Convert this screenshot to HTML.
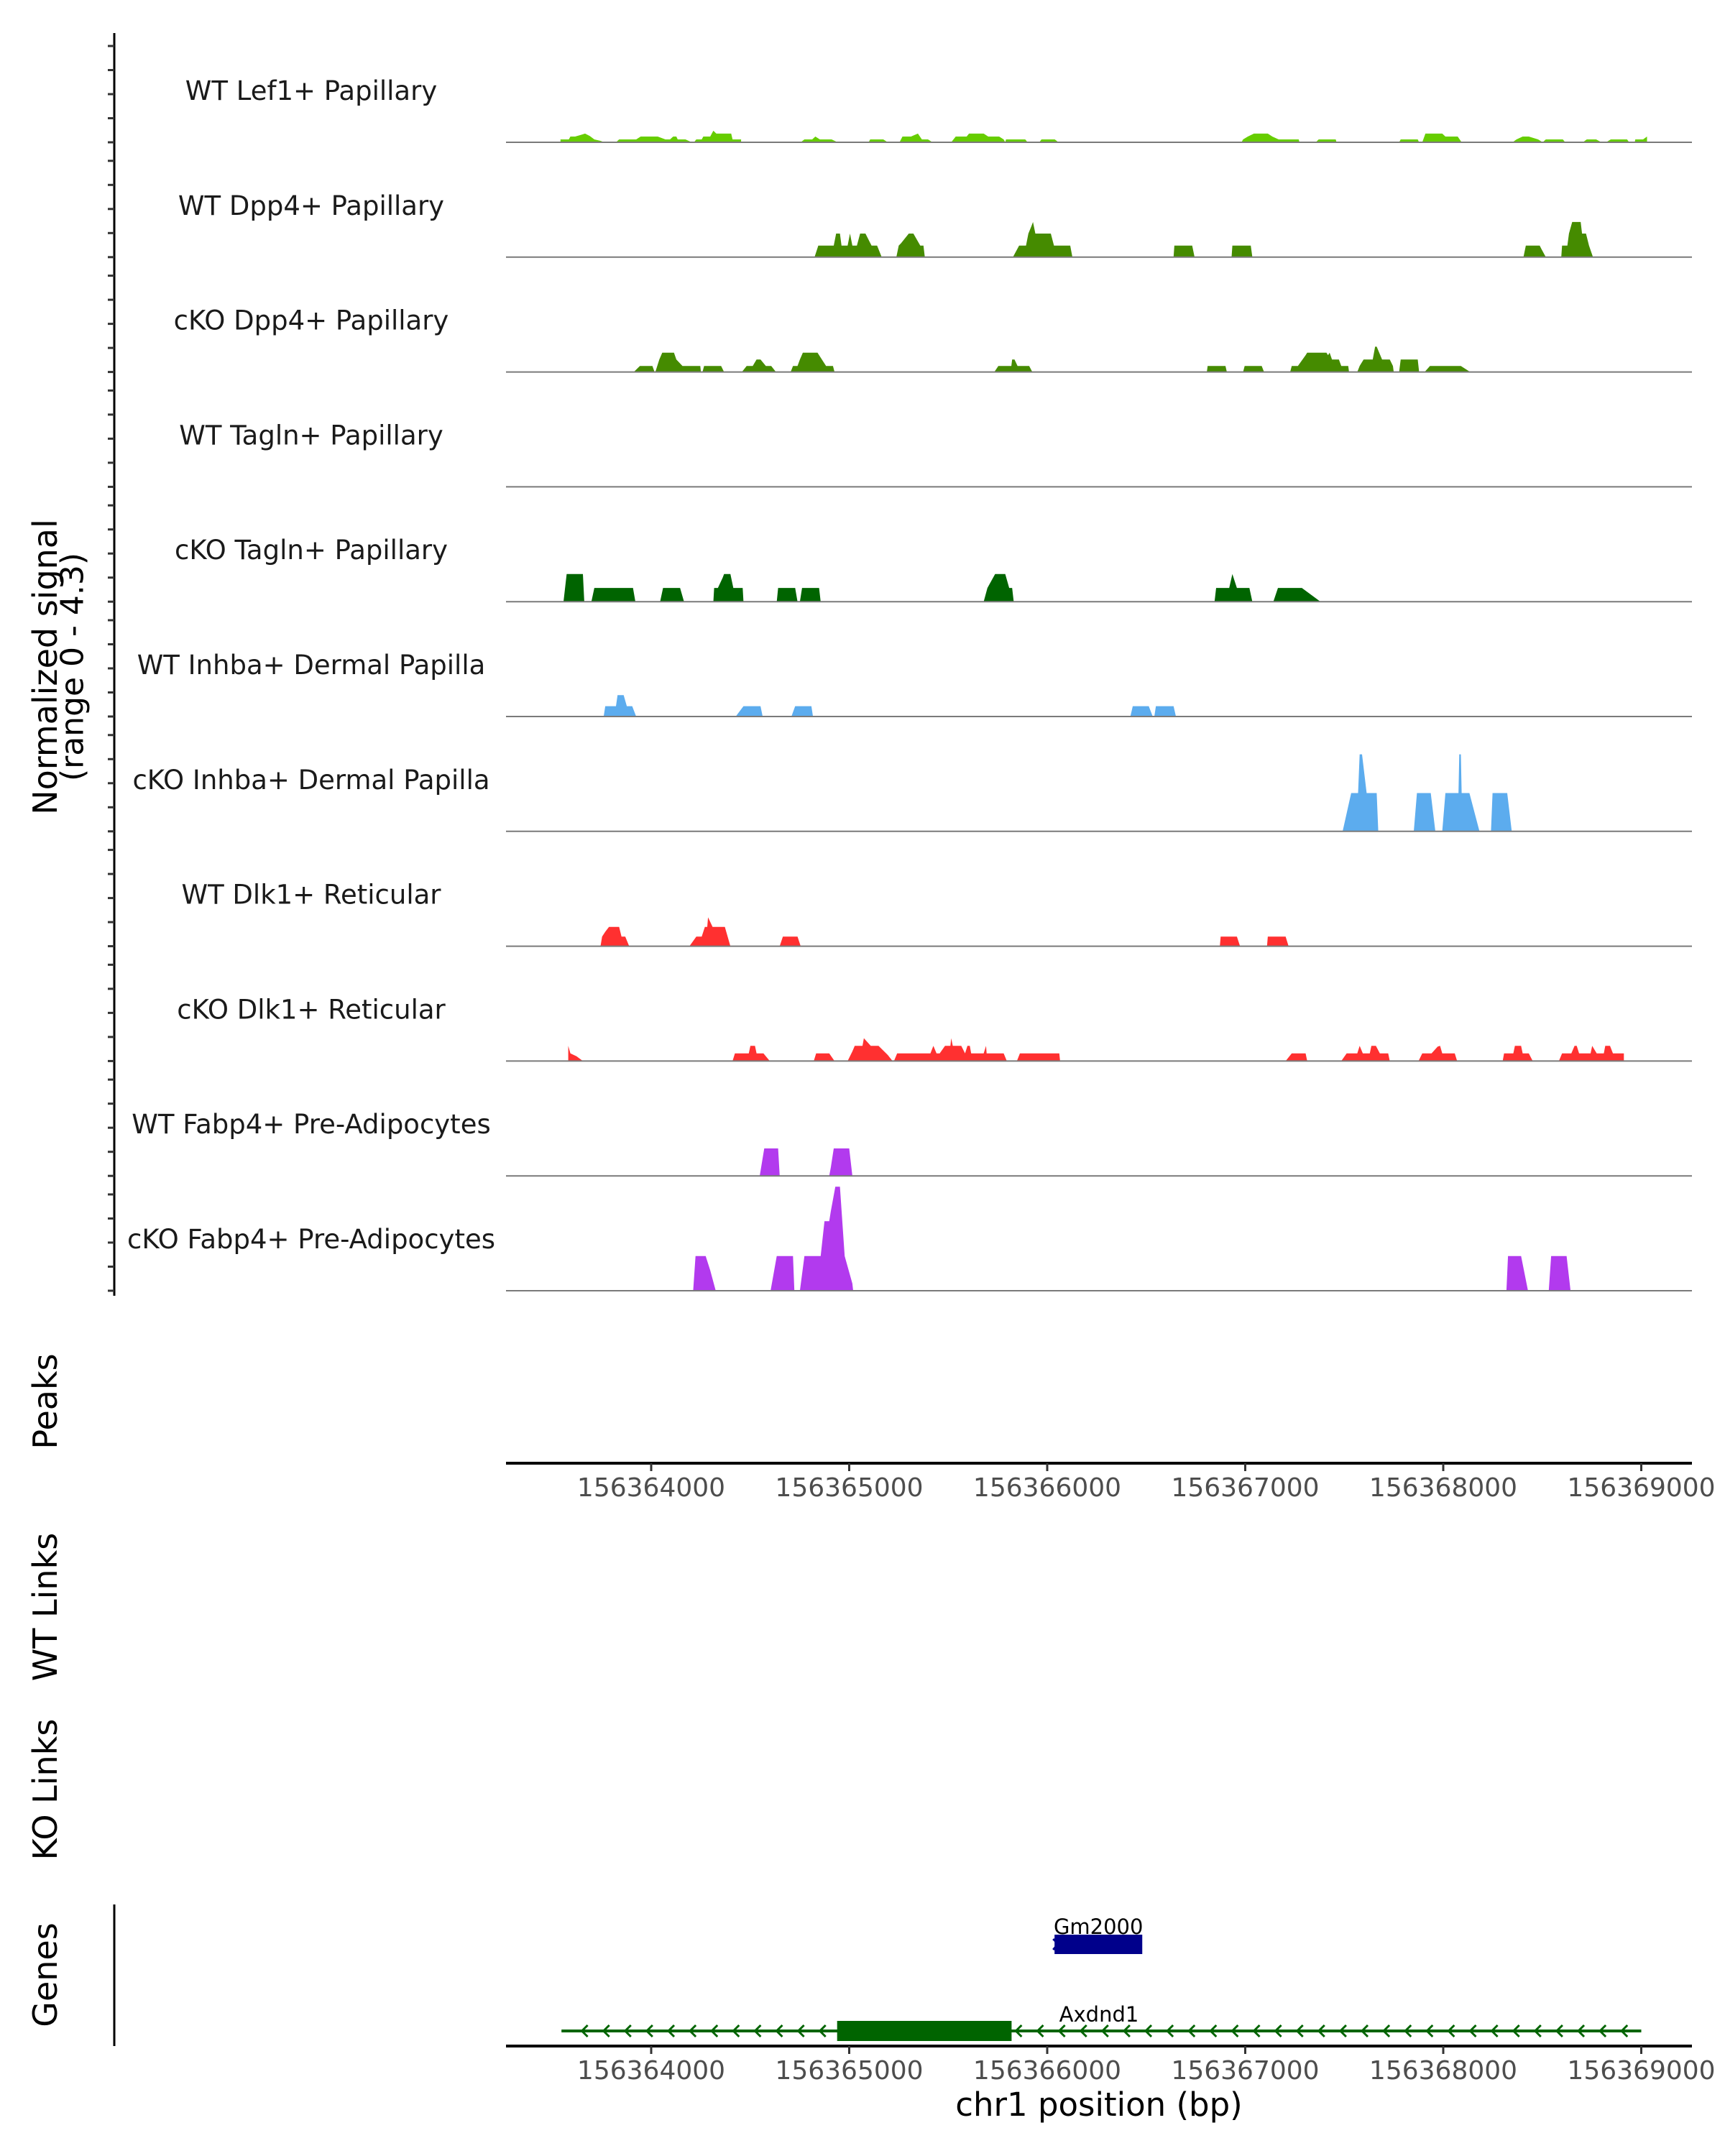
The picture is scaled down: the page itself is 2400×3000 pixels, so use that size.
<!DOCTYPE html>
<html><head><meta charset="utf-8"><style>
html,body{margin:0;padding:0;background:#fff;}
svg{display:block;font-family:"DejaVu Sans","Liberation Sans",sans-serif;}
</style></head><body>
<svg id="chart" width="2400" height="3000" viewBox="0 0 2400 3000" xmlns="http://www.w3.org/2000/svg">
<rect x="0" y="0" width="2400" height="3000" fill="#fff"/>
<g id="tracks"></g>
<g id="axes"></g>
<g id="genes"></g>
<text x="63" y="928" transform="rotate(-90 63 928)" text-anchor="middle" dominant-baseline="central" font-size="46" fill="#000">Normalized signal</text>
<text x="101" y="928" transform="rotate(-90 101 928)" text-anchor="middle" dominant-baseline="central" font-size="44" fill="#000">(range 0 - 4.3)</text>
<text x="63" y="1950" transform="rotate(-90 63 1950)" text-anchor="middle" dominant-baseline="central" font-size="46" fill="#000">Peaks</text>
<text x="63" y="2236" transform="rotate(-90 63 2236)" text-anchor="middle" dominant-baseline="central" font-size="46" fill="#000">WT Links</text>
<text x="63" y="2490" transform="rotate(-90 63 2490)" text-anchor="middle" dominant-baseline="central" font-size="46" fill="#000">KO Links</text>
<text x="63" y="2748" transform="rotate(-90 63 2748)" text-anchor="middle" dominant-baseline="central" font-size="46" fill="#000">Genes</text>
<text x="1529" y="2944" text-anchor="middle" font-size="45" fill="#000">chr1 position (bp)</text>
</svg>
<script>
// genomic positions are bp offsets from 156,364,000; values are normalized signal
const trackNames = ["WT Lef1+ Papillary","WT Dpp4+ Papillary","cKO Dpp4+ Papillary","WT Tagln+ Papillary","cKO Tagln+ Papillary","WT Inhba+ Dermal Papilla","cKO Inhba+ Dermal Papilla","WT Dlk1+ Reticular","cKO Dlk1+ Reticular","WT Fabp4+ Pre-Adipocytes","cKO Fabp4+ Pre-Adipocytes"];
const trackColors = ["#66CD00","#458B00","#458B00","#006400","#006400","#5CACEE","#5CACEE","#FF3030","#FF3030","#B23AEE","#B23AEE"];

const posLef1 = [-458,-458,-416,-408,-384,-357,-334,-310,-287,-256,-236,-178,-162,-76,-53,17,33,72,95,111,127,134,173,205,216,228,255,263,298,314,329,404,411,454,454,755,774,813,829,852,911,942,1098,1106,1172,1195,1254,1269,1312,1347,1367,1398,1421,1515,1538,1593,1605,1679,1702,1757,1780,1788,1792,1889,1901,1960,1971,2038,2057,2981,2989,3013,3044,3114,3137,3169,3270,3274,3356,3371,3457,3461,3777,3785,3871,3878,3894,3910,3995,4011,4073,4093,4350,4370,4401,4432,4479,4502,4518,4604,4616,4705,4725,4772,4799,4822,4846,4928,4939,4967,4970,5009,5029,5029];
const valLef1 = [0,.12,.12,.24,.24,.3,.36,.26,.12,.06,0,0,.12,.12,.24,.24,.24,.12,.12,.24,.24,.12,.12,0,0,.12,.12,.24,.24,.48,.36,.36,.12,.12,0,0,.12,.12,.24,.12,.12,0,0,.12,.12,0,0,.24,.24,.36,.12,.12,0,0,.24,.24,.36,.36,.24,.24,.12,0,.12,.12,0,0,.12,.12,0,0,.12,.24,.36,.36,.24,.12,.12,0,0,.12,.12,0,0,.12,.12,0,0,.36,.36,.24,.24,0,0,.12,.24,.24,.12,0,.12,.12,0,0,.12,.12,0,0,.12,.12,0,0,.12,.12,.24,0];

const posDpp4WT = [825,844,922,934,953,961,992,1004,1016,1039,1055,1082,1113,1141,1164,1238,1250,1262,1301,1324,1359,1375,1382,1827,1858,1893,1905,1921,1928,1940,2018,2034,2116,2127,2638,2642,2732,2744,2931,2935,3028,3036,4405,4417,4487,4495,4518,4596,4600,4627,4635,4651,4694,4701,4721,4736,4756];
const valDpp4WT = [0,.48,.48,.98,.98,.48,.48,.98,.48,.48,.98,.98,.48,.48,0,0,.48,.58,.98,.98,.48,.48,0,0,.48,.48,.98,1.3,1.46,.98,.98,.48,.48,0,0,.48,.48,0,0,.48,.48,0,0,.48,.48,.35,0,0,.48,.48,.98,1.46,1.46,.98,.98,.48,0];

const posDpp4KO = [-88,-57,6,17,21,41,56,115,127,158,248,251,259,267,353,368,458,482,513,532,552,579,606,630,704,716,739,751,766,840,883,918,926,1733,1753,1819,1823,1835,1850,1909,1925,2806,2810,2900,2907,2989,2997,3083,3095,3227,3235,3266,3305,3313,3410,3418,3426,3438,3473,3485,3520,3524,3566,3578,3598,3644,3656,3664,3691,3730,3746,3750,3777,3785,3871,3878,3906,3933,4089,4136];
const valDpp4KO = [0,.25,.25,0,0,.52,.8,.8,.52,.25,.25,0,0,.25,.25,0,0,.25,.25,.52,.52,.25,.25,0,0,.25,.25,.52,.8,.8,.25,.25,0,0,.25,.25,.52,.52,.25,.25,0,0,.25,.25,0,0,.25,.25,0,0,.25,.25,.7,.8,.8,.7,.8,.52,.52,.25,.25,0,0,.25,.52,.52,1.05,1.05,.52,.52,.25,0,0,.52,.52,0,0,.25,.25,0];

const posTaglnWT = [];
const valTaglnWT = [];

const posTaglnKO = [-443,-427,-345,-338,-302,-287,-92,-80,45,60,146,166,314,318,337,361,368,400,415,462,466,634,641,727,739,751,762,848,856,1679,1698,1737,1788,1808,1823,1831,2845,2853,2919,2935,2958,3021,3036,3142,3165,3286,3380];
const valTaglnKO = [0,1.15,1.15,0,0,.57,.57,0,0,.57,.57,0,0,.57,.57,1.0,1.15,1.15,.57,.57,0,0,.57,.57,0,0,.57,.57,0,0,.57,1.15,1.15,.57,.57,0,0,.57,.57,1.15,.57,.57,0,0,.57,.57,0];

const posInhbaWT = [-240,-232,-178,-170,-139,-123,-96,-76,427,466,552,563,708,727,809,817,2420,2432,2513,2533,2541,2549,2638,2650];
const valInhbaWT = [0,.43,.43,.89,.89,.43,.43,0,0,.43,.43,0,0,.43,.43,0,0,.43,.43,0,0,.43,.43,0];

const posInhbaKO = [3492,3535,3570,3578,3590,3613,3664,3672,3851,3867,3937,3960,3995,4011,4077,4081,4089,4093,4132,4183,4241,4249,4323,4346];
const valInhbaKO = [0,1.59,1.59,3.2,3.2,1.59,1.59,0,0,1.59,1.59,0,0,1.59,1.59,3.2,3.2,1.59,1.59,0,0,1.59,1.59,0];

const posDlk1WT = [-256,-248,-232,-213,-162,-150,-131,-111,193,228,255,271,283,287,310,372,400,649,665,739,755,2872,2876,2958,2974,3110,3114,3204,3219];
const valDlk1WT = [0,.4,.6,.8,.8,.4,.4,0,0,.4,.4,.8,.8,1.2,.8,.8,0,0,.4,.4,0,0,.4,.4,0,0,.4,.4,0];

const posDlk1KO = [-419,-419,-408,-377,-345,411,423,493,501,524,532,567,599,821,833,899,926,992,1016,1028,1067,1074,1109,1148,1195,1219,1226,1242,1410,1425,1441,1457,1484,1511,1515,1523,1566,1585,1597,1609,1616,1679,1691,1694,1780,1796,1847,1862,2061,2065,3204,3235,3305,3313,3485,3512,3566,3578,3594,3629,3637,3660,3680,3722,3730,3875,3894,3941,3972,3984,3995,4058,4070,4300,4307,4354,4362,4393,4401,4432,4452,4584,4600,4647,4663,4674,4686,4744,4752,4775,4811,4818,4842,4857,4912,4912];
const valDlk1KO = [0,.63,.32,.2,0,0,.32,.32,.63,.63,.32,.32,0,0,.32,.32,0,0,.4,.63,.63,.95,.63,.63,.25,0,0,.32,.32,.63,.32,.32,.63,.63,.95,.63,.63,.32,.63,.63,.32,.32,.63,.32,.32,0,0,.32,.32,0,0,.32,.32,0,0,.32,.32,.63,.32,.32,.63,.63,.32,.32,0,0,.32,.32,.6,.63,.32,.32,0,0,.32,.32,.63,.63,.32,.32,0,0,.32,.32,.63,.63,.32,.32,.63,.32,.32,.63,.63,.32,.32,0];

const posFabp4WT = [548,571,641,649,899,907,922,1000,1016];
const valFabp4WT = [0,1.14,1.14,0,0,.35,1.14,1.14,0];

const posFabp4KO = [212,224,275,298,326,603,634,716,723,751,774,856,875,899,907,930,953,977,1016,1020,4319,4327,4393,4428,4533,4545,4623,4643];
const valFabp4KO = [0,1.44,1.44,.85,0,0,1.44,1.44,0,0,1.44,1.44,2.89,2.89,3.3,4.32,4.32,1.44,.3,0,0,1.44,1.44,0,0,1.44,1.44,0];

const trackPositions = [posLef1,posDpp4WT,posDpp4KO,posTaglnWT,posTaglnKO,posInhbaWT,posInhbaKO,posDlk1WT,posDlk1KO,posFabp4WT,posFabp4KO];
const trackValues = [valLef1,valDpp4WT,valDpp4KO,valTaglnWT,valTaglnKO,valInhbaWT,valInhbaKO,valDlk1WT,valDlk1KO,valFabp4WT,valFabp4KO];

const xTicks = [0,1000,2000,3000,4000,5000];
const xTickLabels = ["156364000","156365000","156366000","156367000","156368000","156369000"];
const yTicks = [0,1,2,3,4];

const geneNames = ["Gm2000","Axdnd1"];
const geneStart = [2030,-453];
const geneEnd = [2480,5000];
const exonStart = [2037,939];
const exonEnd = [2480,1820];

const NS = "http://www.w3.org/2000/svg";
function x(bp){ return 906 + bp*0.2755; }
const X0 = 704, X1 = 2354;
function trackBase(i){ return 198 + i*159.8; }
function y(i, v){ return trackBase(i) - v*33.5; }
function mk(tag, attrs, parent){
  const e = document.createElementNS(NS, tag);
  for (const k in attrs) e.setAttribute(k, attrs[k]);
  parent.appendChild(e); return e;
}

const tracksG = document.getElementById('tracks');
const axesG = document.getElementById('axes');
const genesG = document.getElementById('genes');

const yAxis = mk('line',{x1:159,y1:46,x2:159,y2:1803,stroke:'#000','stroke-width':3},axesG);



for (let i=0;i<trackNames.length;i++){
  const g = mk('g',{},tracksG);
  
  
  const base = trackBase(i);
  for (const t of yTicks){
    const tk = mk('line',{x1:150,x2:159,y1:y(i,t),y2:y(i,t),stroke:'#333','stroke-width':3},axesG);
    
    
  }
  const lbl = mk('text',{x:433,y:base-59,'text-anchor':'middle','font-size':37,fill:'#1a1a1a'},g);
  lbl.textContent = trackNames[i];
  
  
  const P = trackPositions[i], V = trackValues[i];
  const n = Math.min(P.length, V.length);
  if (n>0){
    let d = 'M'+x(P[0]).toFixed(1)+','+base;
    for (let j=0;j<n;j++) d += ' L'+x(P[j]).toFixed(1)+','+y(i,V[j]).toFixed(1);
    d += ' L'+x(P[n-1]).toFixed(1)+','+base+' Z';
    const area = mk('path',{d:d,fill:trackColors[i],stroke:'none'},g);
    
    
  }
  const bl = mk('line',{x1:X0,x2:X1,y1:base,y2:base,stroke:'#7a7a7a','stroke-width':2},g);
  
  
}

function xAxis(yy, labelY, name){
  const g = mk('g',{},axesG);
  
  
  mk('line',{x1:X0,x2:X1,y1:yy,y2:yy,stroke:'#000','stroke-width':4},g);
  for (let k=0;k<xTicks.length;k++){
    const tk = mk('line',{x1:x(xTicks[k]),x2:x(xTicks[k]),y1:yy,y2:yy+11,stroke:'#333','stroke-width':3},g);
    
    
    const t = mk('text',{x:x(xTicks[k]),y:labelY,'text-anchor':'middle','font-size':36,fill:'#4d4d4d'},g);
    t.textContent = xTickLabels[k];
    
    
  }
}
xAxis(2036, 2082, 'peaks-x-axis');
xAxis(2847, 2893, 'genes-x-axis');

const gl = mk('line',{x1:159,x2:159,y1:2650,y2:2847,stroke:'#000','stroke-width':3},genesG);



const gmBox = mk('rect',{x:x(exonStart[0]),y:2692,width:x(exonEnd[0])-x(exonStart[0]),height:27,fill:'#00008B'},genesG);


const gmArrow = mk('path',{d:'M'+x(geneStart[0])+',2698 L'+(x(geneStart[0])+7)+',2705 L'+x(geneStart[0])+',2713',stroke:'#00008B','stroke-width':3,fill:'none'},genesG);


const gmLbl = mk('text',{x:(x(exonStart[0])+x(exonEnd[0]))/2,y:2691,'text-anchor':'middle','font-size':29,fill:'#000'},genesG);
gmLbl.textContent = geneNames[0];



const ay = 2826;
const axLine = mk('line',{x1:x(geneStart[1]),x2:x(geneEnd[1]),y1:ay,y2:ay,stroke:'#006400','stroke-width':4},genesG);


for (let cx = x(exonEnd[1])+6; cx < x(geneEnd[1])-8; cx += 30.1){
  const ch = mk('path',{d:'M'+(cx+8)+','+(ay-8)+' L'+cx+','+ay+' L'+(cx+8)+','+(ay+8),stroke:'#006400','stroke-width':3,fill:'none'},genesG);
  
  
}
for (let cx = x(exonStart[1])-24; cx > x(geneStart[1]); cx -= 30.1){
  const ch = mk('path',{d:'M'+(cx+8)+','+(ay-8)+' L'+cx+','+ay+' L'+(cx+8)+','+(ay+8),stroke:'#006400','stroke-width':3,fill:'none'},genesG);
  
  
}
const axBox = mk('rect',{x:x(exonStart[1]),y:2812,width:x(exonEnd[1])-x(exonStart[1]),height:28,fill:'#006400'},genesG);


const axLbl = mk('text',{x:1529,y:2813,'text-anchor':'middle','font-size':29,fill:'#000'},genesG);
axLbl.textContent = geneNames[1];


</script>
</body></html>
